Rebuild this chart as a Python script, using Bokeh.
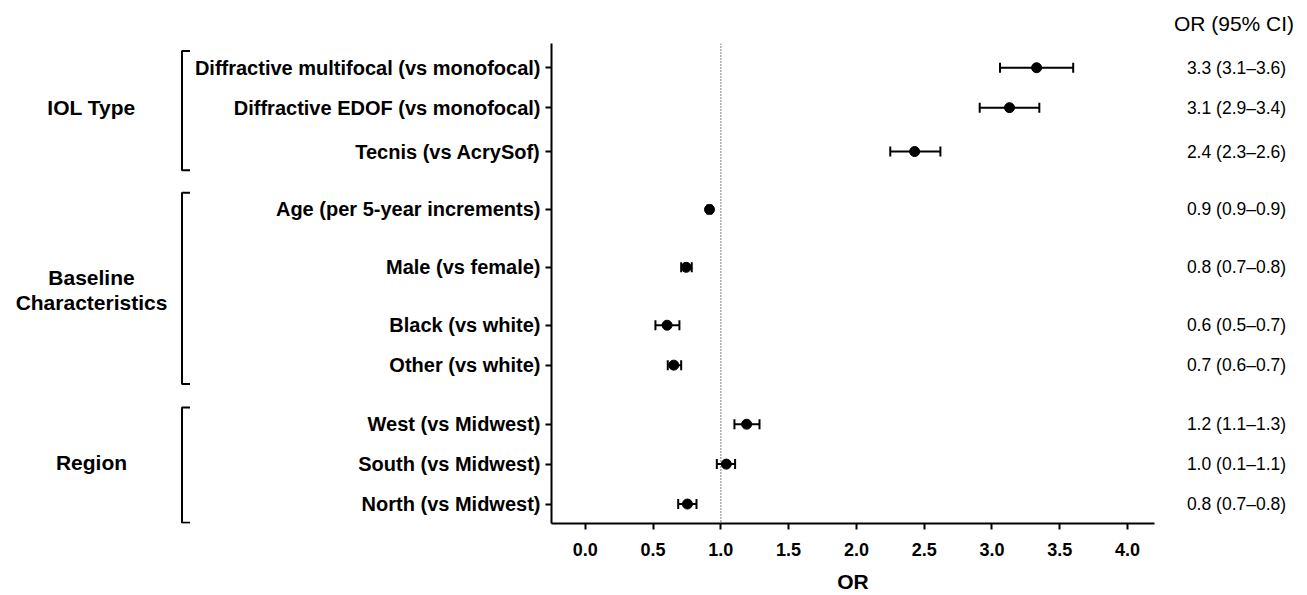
from bokeh.plotting import figure
from bokeh.models import (ColumnDataSource, Range1d, FixedTicker, Whisker, TeeHead,
                          Span, NumeralTickFormatter)
from bokeh.layouts import row
from bokeh.core.properties import value
from bokeh.embed import file_html
from bokeh.resources import INLINE

# ---------------- data ----------------
labels = ["Diffractive multifocal (vs monofocal)", "Diffractive EDOF (vs monofocal)",
          "Tecnis (vs AcrySof)", "Age (per 5-year increments)", "Male (vs female)",
          "Black (vs white)", "Other (vs white)", "West (vs Midwest)",
          "South (vs Midwest)", "North (vs Midwest)"]
or_est = [3.33, 3.13, 2.43, 0.916, 0.744, 0.603, 0.652, 1.19, 1.04, 0.753]
ci_lo = [3.06, 2.91, 2.25, 0.90, 0.707, 0.517, 0.608, 1.10, 0.97, 0.685]
ci_hi = [3.60, 3.35, 2.62, 0.93, 0.785, 0.694, 0.707, 1.285, 1.105, 0.82]
or_text = ["3.3 (3.1\u20133.6)", "3.1 (2.9\u20133.4)", "2.4 (2.3\u20132.6)",
           "0.9 (0.9\u20130.9)", "0.8 (0.7\u20130.8)", "0.6 (0.5\u20130.7)",
           "0.7 (0.6\u20130.7)", "1.2 (1.1\u20131.3)", "1.0 (0.1\u20131.1)",
           "0.8 (0.7\u20130.8)"]
groups = ["IOL Type", "Baseline\nCharacteristics", "Region"]
group_members = [[0, 1, 2], [3, 4, 5, 6], [7, 8, 9]]
x_ticks = [0.0, 0.5, 1.0, 1.5, 2.0, 2.5, 3.0, 3.5, 4.0]
header = "OR (95% CI)"
x_title = "OR"

# ---------------- layout (row slots) ----------------
y_pos = [0, 1, 2.1, 3.55, 5.0, 6.45, 7.45, 8.93, 9.93, 10.93]
Y_TOP, Y_BOT = -0.6075, 11.4175
FONT = "Liberation Sans"
H = 595
TOP, BOT = 43, 71

src = ColumnDataSource(dict(y=y_pos, est=or_est, lo=ci_lo, hi=ci_hi, txt=or_text))
yr = Range1d(Y_BOT, Y_TOP)

# ---------------- left figure: group brackets ----------------
LW = 190
left = figure(width=LW, height=H, x_range=Range1d(0, LW), y_range=yr,
              x_axis_type=None, y_axis_type=None, toolbar_location=None,
              output_backend="svg", min_border_left=0, min_border_right=0,
              min_border_top=TOP, min_border_bottom=BOT, outline_line_color=None)
left.grid.visible = False
bx, tick_end = 181.5, 190
for g, members in zip(groups, group_members):
    ys = [y_pos[i] for i in members]
    top, bot = ys[0] - 0.42, ys[-1] + 0.47
    left.line([tick_end, bx, bx, tick_end], [top, top, bot, bot], line_color="black",
              line_width=2)
    mid = sum(ys) / len(ys)
    lines = g.split("\n")
    n = len(lines)
    for k, t in enumerate(lines):
        left.text(x=[91], y=[mid + (k - (n - 1) / 2) * 0.625 - 0.05], text=[t],
                  text_font=value(FONT), text_font_style="bold", text_font_size="21px",
                  text_align="center", text_baseline="middle", text_color="black")

# ---------------- main figure ----------------
p = figure(width=970, height=H, x_range=Range1d(-0.25, 4.2), y_range=yr,
           toolbar_location=None, output_backend="svg",
           min_border_left=361, min_border_right=6, min_border_top=TOP,
           min_border_bottom=BOT, outline_line_color=None)
p.grid.visible = False

p.add_layout(Span(location=1.0, dimension="height", line_color="black",
                  line_width=1, line_dash="1 2"))

wh = Whisker(base="y", lower="lo", upper="hi", dimension="width", source=src,
             line_color="black", line_width=2,
             upper_head=TeeHead(size=10, line_width=2, line_color="black"),
             lower_head=TeeHead(size=10, line_width=2, line_color="black"))
p.add_layout(wh)
p.scatter(x="est", y="y", source=src, marker="circle", size=10,
          fill_color="black", line_color="black")

for ax in (p.xaxis[0], p.yaxis[0]):
    ax.axis_line_width = 2
    ax.axis_line_color = "black"
    ax.major_tick_line_width = 2
    ax.major_tick_line_color = "black"
    ax.major_tick_in = 0
    ax.major_tick_out = 6
    ax.minor_tick_line_color = None
    ax.major_label_text_font = FONT
    ax.major_label_text_font_style = "bold"
    ax.major_label_text_color = "black"

p.xaxis.ticker = FixedTicker(ticks=x_ticks)
p.xaxis.formatter = NumeralTickFormatter(format="0.0")
p.xaxis.major_label_text_font_size = "18px"
p.xaxis.major_label_standoff = 13
p.xaxis.axis_label = x_title
p.xaxis.axis_label_text_font = FONT
p.xaxis.axis_label_text_font_style = "bold"
p.xaxis.axis_label_text_font_size = "21px"
p.xaxis.axis_label_text_color = "black"
p.xaxis.axis_label_standoff = 11

p.yaxis.ticker = FixedTicker(ticks=y_pos)
p.yaxis.major_label_overrides = {y: l for y, l in zip(y_pos, labels)}
p.yaxis.major_label_text_font_size = "20px"
p.yaxis.major_label_standoff = 5

# ---------------- right figure: OR (95% CI) ----------------
RW = 147
right = figure(width=RW, height=H, x_range=Range1d(0, RW), y_range=yr,
               x_axis_type=None, y_axis_type=None, toolbar_location=None,
               output_backend="svg", min_border_left=0, min_border_right=0,
               min_border_top=TOP, min_border_bottom=BOT, outline_line_color=None,
               title=header)
right.title.align = "center"
right.title.text_font = FONT
right.title.text_font_style = "normal"
right.title.text_font_size = "21px"
right.title.text_color = "black"
right.title.standoff = 17
right.grid.visible = False
right.text(x=76, y="y", text="txt", source=src, text_font=value(FONT),
           text_font_size="17.5px", text_align="center", text_baseline="middle",
           text_color="black")

layout = row(left, p, right, spacing=0)
open("out.html", "w").write(file_html(layout, INLINE))
